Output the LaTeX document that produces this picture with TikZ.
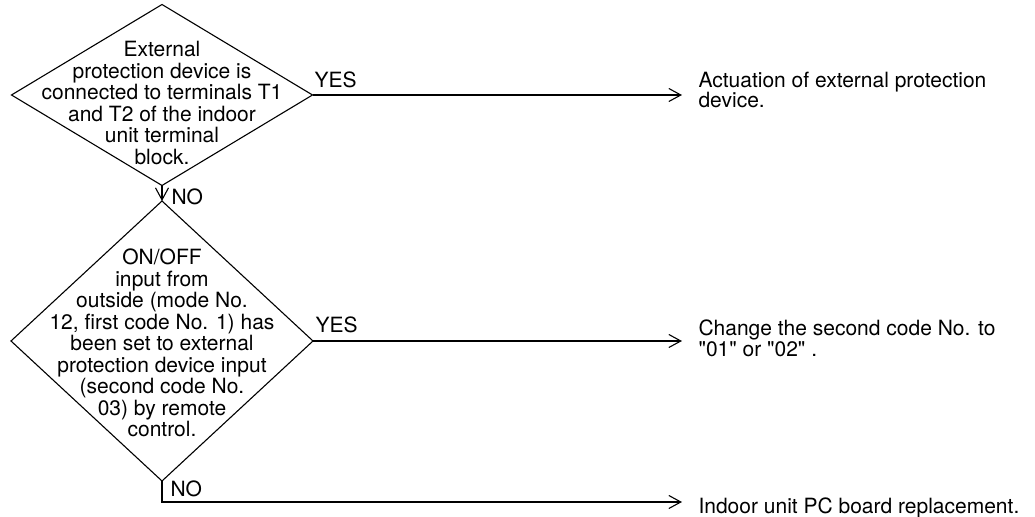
\documentclass[tikz,border=0pt]{standalone}
\usepackage{fontspec}
\setmainfont{TeX Gyre Heros}[Ligatures=TeXOff]
\usetikzlibrary{arrows.meta,positioning,shapes.geometric}

\begin{document}
\begin{tikzpicture}[x=0.5pt,y=-0.5pt,>={Straight Barb[length=6pt,width=6.5pt]},line width=0.55pt,
 decision/.style={draw,diamond,inner sep=0pt,outer sep=0pt},
 qtext/.style={align=center,inner sep=0pt,font=\fontsize{10.5}{10.75}\selectfont},
 result/.style={anchor=base west,align=left,inner sep=0pt},
 lbl/.style={anchor=base west,inner sep=0pt,font=\fontsize{10.5}{12}\selectfont}]
 \useasboundingbox (0,0) rectangle (1035,517);
 % decisions
 \node[decision,minimum width=150.5pt,minimum height=90.5pt] (q1) at (162,95) {};
 \node[qtext] (q1t) at (162,103) {External\\protection device is\\connected to terminals T1\\and T2 of the indoor\\unit terminal\\block.};
 \node[decision,minimum width=151pt,minimum height=140pt] (q2) at (162,341) {};
 \node[qtext] (q2t) at (162,343) {ON/OFF\\input from\\outside (mode No.\\12, first code No. 1) has\\been set to external\\protection device input\\(second code No.\\03) by remote\\control.};
 % results
 \node[result,font=\fontsize{10.5}{10}\selectfont] (r1) at (698,108) {Actuation of external protection\\device.};
 \node[result,font=\fontsize{10.5}{8.5}\selectfont] (r2) at (698,357) {Change the second code No. to\\"01" or "02" .};
 \node[result,font=\fontsize{10.5}{10}\selectfont] (r3) at (698,514) {Indoor unit PC board replacement.};
 \coordinate (a1) at (682,95);
 \coordinate (a2) at (682,341);
 \coordinate (a3) at (682,502);
 \coordinate (k3) at (162,502);
 % connectors
 \draw[->] (q1.east) -- (a1);
 \draw[->] (q1.south) -- (q2.north);
 \draw[->] (q2.east) -- (a2);
 \draw[->] (q2.south) -- (k3) -- (a3);
 \node[lbl] (yes1) at (314,88) {YES};
 \node[lbl] (no1) at (171,205) {NO};
 \node[lbl] (yes2) at (315,333) {YES};
 \node[lbl] (no2) at (170,497) {NO};
\end{tikzpicture}
\end{document}
